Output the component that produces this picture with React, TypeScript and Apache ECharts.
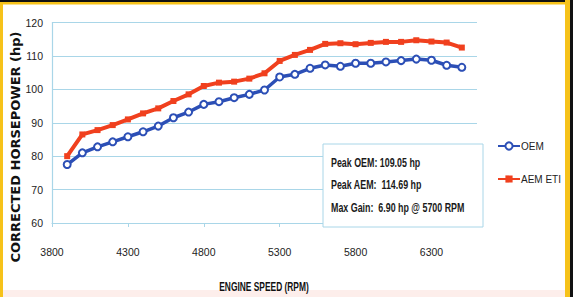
import React, { useEffect, useRef } from "react";
import * as echarts from "echarts";

const rpm = [3900, 4000, 4100, 4200, 4300, 4400, 4500, 4600, 4700, 4800, 4900, 5000, 5100, 5200, 5300, 5400, 5500, 5600, 5700, 5800, 5900, 6000, 6100, 6200, 6300, 6400, 6500];
const oem = [77.5, 81.0, 82.8, 84.3, 85.8, 87.3, 89.0, 91.5, 93.2, 95.5, 96.3, 97.5, 98.5, 99.8, 103.7, 104.5, 106.3, 107.3, 106.9, 107.8, 107.8, 108.2, 108.6, 109.05, 108.7, 107.2, 106.6];
const aem = [80.0, 86.5, 87.8, 89.3, 91.0, 92.8, 94.3, 96.5, 98.5, 101.0, 102.0, 102.3, 103.2, 104.8, 108.5, 110.3, 111.8, 113.6, 113.8, 113.5, 113.9, 114.2, 114.2, 114.69, 114.3, 114.0, 112.5];
const xTicks = [3800, 4300, 4800, 5300, 5800, 6300];
const seriesNames = ["OEM", "AEM ETI"];
const boxLines = ["Peak OEM: 109.05 hp", "Peak AEM:  114.69 hp", "Max Gain:  6.90 hp @ 5700 RPM"];
const yTitle = "CORRECTED HORSEPOWER (hp)";
const xTitle = "ENGINE SPEED (RPM)";

const SANS = "'Liberation Sans', Arial, sans-serif";
const GRID = "#a9d6e8";

export default function App() {
  const ref = useRef<HTMLDivElement>(null);
  useEffect(() => {
    if (!ref.current) return;
    const chart = echarts.init(ref.current, undefined, { renderer: "svg" });
    chart.setOption({
      animation: false,
      backgroundColor: "#ffffff",
      grid: { left: 52, right: 96, top: 22.5, bottom: 74 },
      xAxis: {
        type: "value",
        min: 3800,
        max: 6600,
        axisLine: { show: true, lineStyle: { color: GRID, width: 1.2 } },
        axisTick: { show: true, customValues: xTicks, length: 4, lineStyle: { color: GRID } },
        axisLabel: {
          customValues: xTicks,
          margin: 23,
          fontSize: 10.5,
          color: "#222",
          fontFamily: SANS,
          formatter: (v: number) => String(v),
        },
        splitLine: { show: false },
      },
      yAxis: {
        type: "value",
        min: 60,
        max: 120,
        interval: 10,
        axisLine: { show: true, lineStyle: { color: GRID, width: 1.2 } },
        axisTick: { show: false },
        axisLabel: { margin: 9, fontSize: 10.5, color: "#222", fontFamily: SANS },
        splitLine: { show: true, lineStyle: { color: GRID, width: 1.2 } },
      },
      legend: {
        orient: "vertical",
        left: 492,
        top: 136,
        itemGap: 23,
        itemWidth: 22,
        itemHeight: 9,
        textStyle: { fontFamily: SANS, fontSize: 10, color: "#222", padding: [0, 0, 0, -4] },
        data: seriesNames,
      },
      series: [
        {
          name: seriesNames[1],
          type: "line",
          data: rpm.map((r, i) => [r, aem[i]]),
          symbol: "rect",
          symbolSize: 6,
          lineStyle: { color: "#f0401e", width: 4 },
          itemStyle: { color: "#f0401e" },
          z: 2,
        },
        {
          name: seriesNames[0],
          type: "line",
          data: rpm.map((r, i) => [r, oem[i]]),
          symbol: "emptyCircle",
          symbolSize: 7,
          lineStyle: { color: "#2c4fb6", width: 3.5 },
          itemStyle: { color: "#2c4fb6", borderColor: "#4aa3e8", borderWidth: 1.5 },
          z: 3,
        },
      ],
      graphic: [
        { type: "rect", shape: { x: 0, y: 290, width: 573, height: 7 }, style: { fill: "#fdeeeb" }, z: 90 },
        { type: "rect", shape: { x: 0, y: 0, width: 3, height: 297 }, style: { fill: "#f6c21a" }, z: 100 },
        { type: "rect", shape: { x: 0, y: 0, width: 573, height: 2 }, style: { fill: "#111" }, z: 100 },
        { type: "rect", shape: { x: 0, y: 2, width: 573, height: 2.5 }, style: { fill: "#f6c21a" }, z: 100 },
        { type: "rect", shape: { x: 565, y: 0, width: 5, height: 297 }, style: { fill: "#f6c21a" }, z: 100 },
        { type: "rect", shape: { x: 570, y: 0, width: 3, height: 297 }, style: { fill: "#111" }, z: 100 },
        {
          type: "rect",
          shape: { x: 323, y: 144, width: 160, height: 83 },
          style: { fill: "#ffffff", stroke: GRID, lineWidth: 1 },
          z: 50,
        },
        ...boxLines.map((t, i) => ({
          type: "text",
          x: 331,
          y: [162, 184, 207][i],
          scaleX: 0.74,
          z: 51,
          style: { text: t, font: `bold 12px ${SANS}`, fill: "#1a1a1a", verticalAlign: "middle", align: "left" },
        })),
        {
          type: "text",
          x: 15,
          y: 147,
          rotation: Math.PI / 2,
          z: 101,
          style: { text: yTitle, font: "bold 13px 'DejaVu Sans', sans-serif", fill: "#111", align: "center", verticalAlign: "middle" },
        },
        {
          type: "text",
          x: 264,
          y: 287,
          scaleX: 0.7,
          z: 101,
          style: { text: xTitle, font: `bold 12px ${SANS}`, fill: "#111", align: "center", verticalAlign: "middle" },
        },
      ],
    });
    return () => chart.dispose();
  }, []);
  return <div ref={ref} style={{ width: 573, height: 297, position: "absolute", left: 0, top: 0 }} />;
}
